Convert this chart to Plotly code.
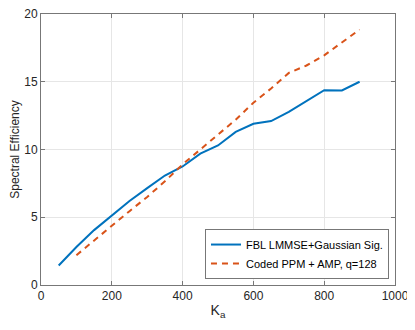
import plotly.graph_objects as go

ka_fbl = [50, 100, 150, 200, 250, 300, 350, 400, 450, 500, 550, 600, 650, 700, 750, 800, 850, 900]
se_fbl = [1.44, 2.8, 4.05, 5.15, 6.2, 7.15, 8.08, 8.75, 9.7, 10.3, 11.3, 11.9, 12.1, 12.77, 13.6, 14.38, 14.36, 15.0]

ka_ppm = [100, 150, 200, 250, 300, 350, 400, 450, 500, 550, 600, 650, 700, 750, 800, 850, 900]
se_ppm = [2.2, 3.3, 4.35, 5.45, 6.5, 7.65, 8.9, 10.0, 11.05, 12.2, 13.45, 14.5, 15.65, 16.2, 16.95, 17.9, 18.85]

fig = go.Figure()
fig.add_trace(go.Scatter(x=ka_fbl, y=se_fbl, mode="lines", name="FBL LMMSE+Gaussian Sig.",
                         line=dict(color="#0072BD", width=2)))
fig.add_trace(go.Scatter(x=ka_ppm, y=se_ppm, mode="lines", name="Coded PPM + AMP, q=128",
                         line=dict(color="#D95319", width=2, dash="6px,5px")))

axis = dict(showline=True, linecolor="#777777", linewidth=1, mirror="ticks",
            ticks="inside", ticklen=4, tickcolor="#777777",
            showgrid=True, gridcolor="#e6e6e6", zeroline=False, automargin=False,
            ticklabeloverflow="allow", tickfont=dict(size=12, color="#262626"))

# page body has an 8px margin all round, so the figure is shrunk to fit the window
fig.update_layout(
    width=399, height=314,
    margin=dict(l=33, r=12, t=6, b=37),
    paper_bgcolor="white", plot_bgcolor="white",
    font=dict(family="Liberation Sans, Arial, sans-serif", color="#262626"),
    xaxis=dict(range=[0, 1000], dtick=200, title=dict(text="K<sub>a</sub>", font=dict(size=14), standoff=2), **axis),
    yaxis=dict(range=[0, 20], dtick=5, title=dict(text="Spectral Efficiency", font=dict(size=12), standoff=3), **axis),
    legend=dict(x=0.983, y=0.022, xanchor="right", yanchor="bottom",
                bordercolor="#777777", borderwidth=1, bgcolor="white",
                font=dict(size=11, color="black"), tracegroupgap=0, itemwidth=30),
    showlegend=True,
)

fig.write_html("out.html")
